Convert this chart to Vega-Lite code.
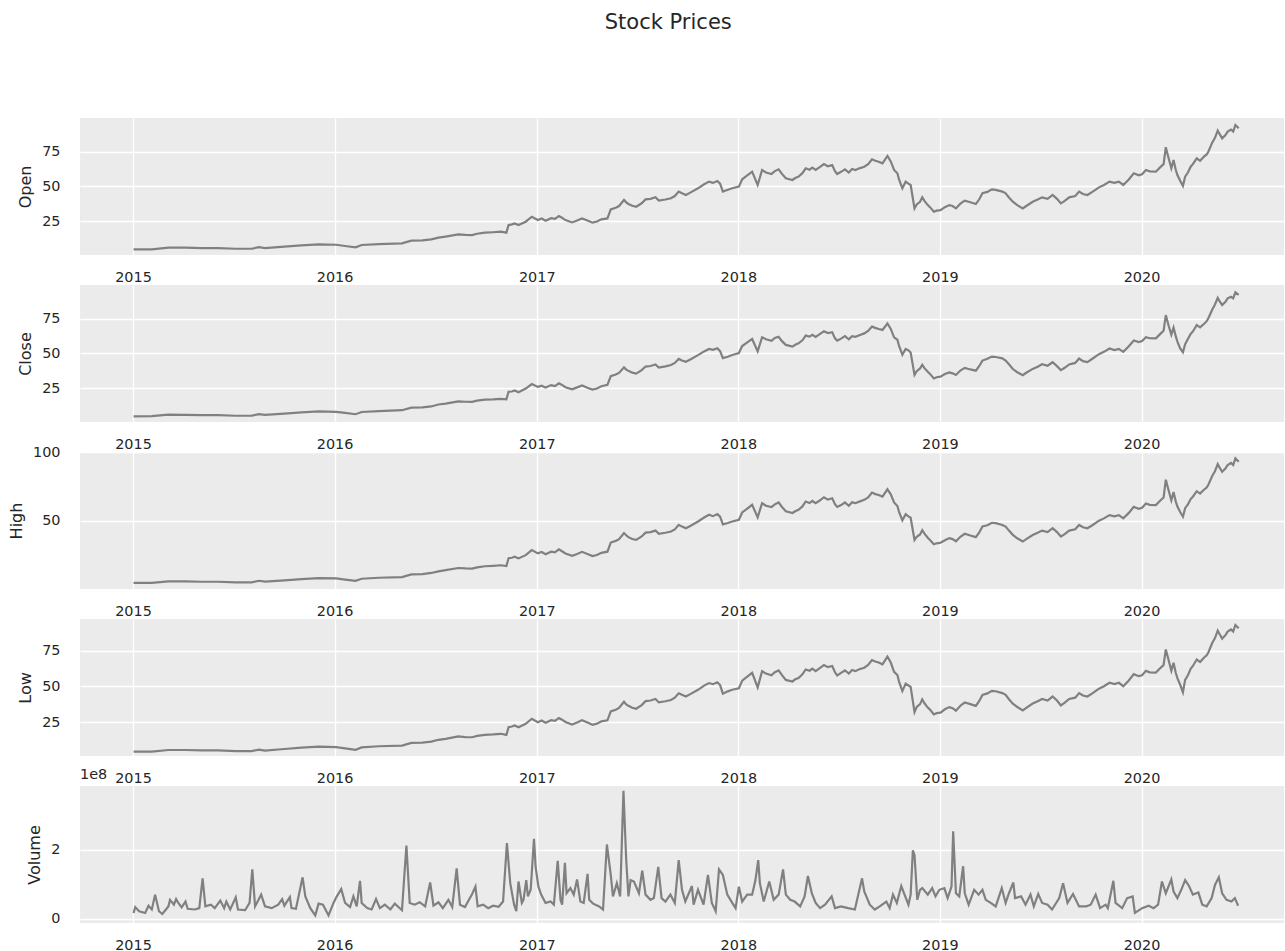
{
  "$schema": "https://vega.github.io/schema/vega-lite/v6.json",
  "background": "white",
  "padding": {"left": 8, "right": 0, "top": 12, "bottom": 0},
  "title": {"text": "Stock Prices", "fontSize": 21, "font": "DejaVu Sans", "fontWeight": "normal", "color": "#262626", "anchor": "middle", "offset": 85, "dx": 22},
  "spacing": 30,
  "bounds": "flush",
  "config": {
    "view": {"fill": "#EBEBEB", "stroke": null},
    "axis": {"domain": false, "ticks": false, "grid": true, "gridColor": "#FFFFFF", "gridWidth": 1.3, "labelFont": "DejaVu Sans", "labelFontSize": 14.4, "labelColor": "#262626", "titleFont": "DejaVu Sans", "titleFontSize": 16, "titleFontWeight": "normal", "titleColor": "#262626"},
    "axisX": {"labelPadding": 15},
    "axisY": {"labelPadding": 20, "titlePadding": 8},
    "line": {"color": "#808080", "strokeWidth": 2.2}
  },
  "datasets": {
    "prices": [
      {"Date": "2015-01-02", "Open": 4.6, "High": 4.7, "Low": 4.5, "Close": 4.6},
      {"Date": "2015-02-04", "Open": 4.6, "High": 4.7, "Low": 4.5, "Close": 4.7},
      {"Date": "2015-03-06", "Open": 5.8, "High": 5.9, "Low": 5.7, "Close": 5.8},
      {"Date": "2015-04-06", "Open": 5.8, "High": 5.9, "Low": 5.7, "Close": 5.7},
      {"Date": "2015-05-05", "Open": 5.5, "High": 5.6, "Low": 5.4, "Close": 5.5},
      {"Date": "2015-06-04", "Open": 5.5, "High": 5.6, "Low": 5.4, "Close": 5.4},
      {"Date": "2015-07-06", "Open": 5.0, "High": 5.1, "Low": 4.9, "Close": 5.0},
      {"Date": "2015-08-04", "Open": 5.0, "High": 5.1, "Low": 4.9, "Close": 5.1},
      {"Date": "2015-08-17", "Open": 6.2, "High": 6.3, "Low": 6.0, "Close": 6.1},
      {"Date": "2015-08-28", "Open": 5.5, "High": 5.7, "Low": 5.3, "Close": 5.6},
      {"Date": "2015-10-02", "Open": 6.5, "High": 6.6, "Low": 6.4, "Close": 6.5},
      {"Date": "2015-11-02", "Open": 7.4, "High": 7.5, "Low": 7.3, "Close": 7.4},
      {"Date": "2015-12-03", "Open": 8.2, "High": 8.3, "Low": 8.1, "Close": 8.1},
      {"Date": "2016-01-04", "Open": 7.9, "High": 8.0, "Low": 7.7, "Close": 7.8},
      {"Date": "2016-01-20", "Open": 7.0, "High": 7.2, "Low": 6.8, "Close": 7.1},
      {"Date": "2016-02-08", "Open": 6.0, "High": 6.2, "Low": 5.8, "Close": 6.1},
      {"Date": "2016-02-19", "Open": 7.7, "High": 7.8, "Low": 7.5, "Close": 7.7},
      {"Date": "2016-03-21", "Open": 8.4, "High": 8.5, "Low": 8.3, "Close": 8.4},
      {"Date": "2016-05-02", "Open": 8.9, "High": 9.0, "Low": 8.8, "Close": 9.0},
      {"Date": "2016-05-19", "Open": 10.8, "High": 11.0, "Low": 10.6, "Close": 10.8},
      {"Date": "2016-06-08", "Open": 11.0, "High": 11.2, "Low": 10.8, "Close": 11.1},
      {"Date": "2016-06-24", "Open": 11.8, "High": 12.0, "Low": 11.5, "Close": 11.7},
      {"Date": "2016-07-07", "Open": 13.0, "High": 13.2, "Low": 12.8, "Close": 13.1},
      {"Date": "2016-07-20", "Open": 13.8, "High": 14.0, "Low": 13.5, "Close": 13.7},
      {"Date": "2016-08-12", "Open": 15.4, "High": 15.6, "Low": 15.2, "Close": 15.3},
      {"Date": "2016-08-25", "Open": 15.0, "High": 15.3, "Low": 14.7, "Close": 15.1},
      {"Date": "2016-09-06", "Open": 14.9, "High": 15.2, "Low": 14.6, "Close": 15.0},
      {"Date": "2016-09-15", "Open": 15.8, "High": 16.1, "Low": 15.5, "Close": 15.9},
      {"Date": "2016-09-29", "Open": 16.6, "High": 16.9, "Low": 16.3, "Close": 16.6},
      {"Date": "2016-10-14", "Open": 16.9, "High": 17.2, "Low": 16.6, "Close": 16.8},
      {"Date": "2016-10-28", "Open": 17.3, "High": 17.6, "Low": 17.0, "Close": 17.2},
      {"Date": "2016-11-07", "Open": 16.6, "High": 17.0, "Low": 16.2, "Close": 16.8},
      {"Date": "2016-11-11", "Open": 22.1, "High": 22.8, "Low": 21.6, "Close": 22.3},
      {"Date": "2016-11-17", "Open": 22.6, "High": 23.1, "Low": 22.1, "Close": 22.5},
      {"Date": "2016-11-22", "Open": 23.3, "High": 23.8, "Low": 22.8, "Close": 23.2},
      {"Date": "2016-11-29", "Open": 22.1, "High": 22.6, "Low": 21.6, "Close": 22.0},
      {"Date": "2016-12-12", "Open": 24.5, "High": 25.0, "Low": 24.0, "Close": 24.6},
      {"Date": "2016-12-23", "Open": 28.1, "High": 28.7, "Low": 27.5, "Close": 27.9},
      {"Date": "2017-01-03", "Open": 25.7, "High": 26.3, "Low": 25.1, "Close": 25.8},
      {"Date": "2017-01-10", "Open": 26.8, "High": 27.3, "Low": 26.3, "Close": 26.7},
      {"Date": "2017-01-17", "Open": 25.2, "High": 25.7, "Low": 24.7, "Close": 25.3},
      {"Date": "2017-01-27", "Open": 27.0, "High": 27.5, "Low": 26.5, "Close": 27.1},
      {"Date": "2017-02-03", "Open": 26.5, "High": 27.0, "Low": 26.0, "Close": 26.4},
      {"Date": "2017-02-10", "Open": 28.6, "High": 29.2, "Low": 28.0, "Close": 28.4},
      {"Date": "2017-02-15", "Open": 27.5, "High": 28.0, "Low": 27.0, "Close": 27.4},
      {"Date": "2017-02-22", "Open": 25.7, "High": 26.2, "Low": 25.2, "Close": 25.6},
      {"Date": "2017-03-06", "Open": 24.0, "High": 24.5, "Low": 23.5, "Close": 24.1},
      {"Date": "2017-03-14", "Open": 25.2, "High": 25.7, "Low": 24.7, "Close": 25.3},
      {"Date": "2017-03-24", "Open": 26.9, "High": 27.4, "Low": 26.4, "Close": 26.8},
      {"Date": "2017-04-05", "Open": 25.0, "High": 25.5, "Low": 24.5, "Close": 24.9},
      {"Date": "2017-04-12", "Open": 23.8, "High": 24.3, "Low": 23.3, "Close": 23.9},
      {"Date": "2017-04-20", "Open": 24.6, "High": 25.1, "Low": 24.1, "Close": 24.7},
      {"Date": "2017-04-28", "Open": 26.2, "High": 26.7, "Low": 25.7, "Close": 26.3},
      {"Date": "2017-05-09", "Open": 26.9, "High": 27.5, "Low": 26.4, "Close": 27.3},
      {"Date": "2017-05-15", "Open": 33.4, "High": 34.2, "Low": 32.6, "Close": 33.6},
      {"Date": "2017-05-24", "Open": 34.6, "High": 35.4, "Low": 33.8, "Close": 34.7},
      {"Date": "2017-05-30", "Open": 35.8, "High": 36.6, "Low": 35.0, "Close": 35.9},
      {"Date": "2017-06-08", "Open": 40.2, "High": 41.1, "Low": 39.3, "Close": 39.9},
      {"Date": "2017-06-12", "Open": 38.5, "High": 39.5, "Low": 37.5, "Close": 38.3},
      {"Date": "2017-06-16", "Open": 37.3, "High": 38.1, "Low": 36.5, "Close": 37.4},
      {"Date": "2017-06-23", "Open": 36.0, "High": 36.8, "Low": 35.2, "Close": 36.1},
      {"Date": "2017-06-30", "Open": 35.3, "High": 36.1, "Low": 34.5, "Close": 35.4},
      {"Date": "2017-07-10", "Open": 37.8, "High": 38.6, "Low": 37.0, "Close": 37.9},
      {"Date": "2017-07-17", "Open": 40.6, "High": 41.4, "Low": 39.8, "Close": 40.5},
      {"Date": "2017-07-26", "Open": 41.0, "High": 41.8, "Low": 40.2, "Close": 40.9},
      {"Date": "2017-08-04", "Open": 42.1, "High": 42.9, "Low": 41.3, "Close": 42.0},
      {"Date": "2017-08-10", "Open": 39.7, "High": 40.5, "Low": 38.9, "Close": 39.8},
      {"Date": "2017-08-22", "Open": 40.5, "High": 41.3, "Low": 39.7, "Close": 40.6},
      {"Date": "2017-09-01", "Open": 41.4, "High": 42.2, "Low": 40.6, "Close": 41.6},
      {"Date": "2017-09-08", "Open": 43.0, "High": 43.8, "Low": 42.2, "Close": 43.1},
      {"Date": "2017-09-15", "Open": 46.2, "High": 47.1, "Low": 45.3, "Close": 46.0},
      {"Date": "2017-09-21", "Open": 45.0, "High": 45.8, "Low": 44.2, "Close": 44.9},
      {"Date": "2017-09-28", "Open": 43.8, "High": 44.6, "Low": 43.0, "Close": 43.9},
      {"Date": "2017-10-06", "Open": 45.5, "High": 46.3, "Low": 44.7, "Close": 45.6},
      {"Date": "2017-10-20", "Open": 48.6, "High": 49.5, "Low": 47.7, "Close": 48.7},
      {"Date": "2017-10-31", "Open": 51.5, "High": 52.4, "Low": 50.6, "Close": 51.4},
      {"Date": "2017-11-09", "Open": 53.4, "High": 54.4, "Low": 52.4, "Close": 53.2},
      {"Date": "2017-11-16", "Open": 52.5, "High": 53.4, "Low": 51.6, "Close": 52.6},
      {"Date": "2017-11-24", "Open": 53.9, "High": 54.9, "Low": 52.9, "Close": 53.7},
      {"Date": "2017-11-29", "Open": 52.0, "High": 53.0, "Low": 51.0, "Close": 51.6},
      {"Date": "2017-12-04", "Open": 46.2, "High": 47.4, "Low": 45.0, "Close": 46.6},
      {"Date": "2017-12-13", "Open": 47.5, "High": 48.4, "Low": 46.6, "Close": 47.6},
      {"Date": "2017-12-21", "Open": 48.6, "High": 49.5, "Low": 47.7, "Close": 48.8},
      {"Date": "2018-01-02", "Open": 49.8, "High": 50.8, "Low": 48.8, "Close": 50.2},
      {"Date": "2018-01-08", "Open": 55.1, "High": 56.1, "Low": 54.1, "Close": 55.3},
      {"Date": "2018-01-16", "Open": 57.5, "High": 58.5, "Low": 56.5, "Close": 57.6},
      {"Date": "2018-01-26", "Open": 60.6, "High": 61.7, "Low": 59.5, "Close": 60.4},
      {"Date": "2018-02-05", "Open": 51.0, "High": 52.6, "Low": 49.4, "Close": 51.4},
      {"Date": "2018-02-13", "Open": 61.8, "High": 62.9, "Low": 60.7, "Close": 61.6},
      {"Date": "2018-02-20", "Open": 60.0, "High": 61.0, "Low": 59.0, "Close": 60.2},
      {"Date": "2018-03-02", "Open": 58.9, "High": 60.0, "Low": 57.8, "Close": 59.1},
      {"Date": "2018-03-08", "Open": 61.0, "High": 62.0, "Low": 60.0, "Close": 61.1},
      {"Date": "2018-03-15", "Open": 62.3, "High": 63.4, "Low": 61.2, "Close": 62.0},
      {"Date": "2018-03-21", "Open": 59.0, "High": 60.1, "Low": 57.9, "Close": 58.8},
      {"Date": "2018-03-28", "Open": 55.8, "High": 57.0, "Low": 54.6, "Close": 56.1},
      {"Date": "2018-04-09", "Open": 54.6, "High": 55.7, "Low": 53.5, "Close": 54.9},
      {"Date": "2018-04-14", "Open": 56.0, "High": 57.0, "Low": 55.0, "Close": 56.2},
      {"Date": "2018-04-20", "Open": 57.0, "High": 58.1, "Low": 55.9, "Close": 57.2},
      {"Date": "2018-04-27", "Open": 59.5, "High": 60.5, "Low": 58.5, "Close": 59.4},
      {"Date": "2018-05-03", "Open": 63.0, "High": 64.1, "Low": 61.9, "Close": 62.8},
      {"Date": "2018-05-10", "Open": 62.0, "High": 63.0, "Low": 61.0, "Close": 62.1},
      {"Date": "2018-05-15", "Open": 63.5, "High": 64.5, "Low": 62.5, "Close": 63.4},
      {"Date": "2018-05-21", "Open": 61.8, "High": 62.9, "Low": 60.7, "Close": 61.9},
      {"Date": "2018-05-29", "Open": 64.0, "High": 65.0, "Low": 63.0, "Close": 64.1},
      {"Date": "2018-06-05", "Open": 66.1, "High": 67.2, "Low": 65.0, "Close": 65.9},
      {"Date": "2018-06-12", "Open": 64.5, "High": 65.5, "Low": 63.5, "Close": 64.6},
      {"Date": "2018-06-20", "Open": 65.4, "High": 66.5, "Low": 64.3, "Close": 65.2},
      {"Date": "2018-06-25", "Open": 61.0, "High": 62.1, "Low": 59.9, "Close": 60.8},
      {"Date": "2018-06-29", "Open": 58.9, "High": 60.1, "Low": 57.7, "Close": 59.2},
      {"Date": "2018-07-06", "Open": 60.5, "High": 61.5, "Low": 59.5, "Close": 60.6},
      {"Date": "2018-07-13", "Open": 62.3, "High": 63.4, "Low": 61.2, "Close": 62.4},
      {"Date": "2018-07-20", "Open": 60.0, "High": 61.0, "Low": 59.0, "Close": 60.1},
      {"Date": "2018-07-26", "Open": 62.5, "High": 63.5, "Low": 61.5, "Close": 62.4},
      {"Date": "2018-08-01", "Open": 61.8, "High": 62.9, "Low": 60.7, "Close": 61.9},
      {"Date": "2018-08-08", "Open": 63.0, "High": 64.0, "Low": 62.0, "Close": 63.1},
      {"Date": "2018-08-17", "Open": 64.2, "High": 65.3, "Low": 63.1, "Close": 64.4},
      {"Date": "2018-08-24", "Open": 66.0, "High": 67.0, "Low": 65.0, "Close": 66.2},
      {"Date": "2018-08-31", "Open": 69.5, "High": 70.6, "Low": 68.4, "Close": 69.3},
      {"Date": "2018-09-06", "Open": 68.5, "High": 69.5, "Low": 67.5, "Close": 68.4},
      {"Date": "2018-09-12", "Open": 67.8, "High": 68.9, "Low": 66.7, "Close": 67.6},
      {"Date": "2018-09-19", "Open": 66.6, "High": 67.7, "Low": 65.5, "Close": 66.9},
      {"Date": "2018-09-28", "Open": 71.9, "High": 73.0, "Low": 70.8, "Close": 71.5},
      {"Date": "2018-10-04", "Open": 68.0, "High": 69.3, "Low": 66.7, "Close": 67.6},
      {"Date": "2018-10-10", "Open": 61.8, "High": 63.4, "Low": 60.2, "Close": 61.5},
      {"Date": "2018-10-16", "Open": 59.4, "High": 60.8, "Low": 58.0, "Close": 59.8},
      {"Date": "2018-10-19", "Open": 55.0, "High": 56.6, "Low": 53.4, "Close": 55.3},
      {"Date": "2018-10-25", "Open": 48.6, "High": 50.4, "Low": 46.8, "Close": 49.0},
      {"Date": "2018-10-31", "Open": 53.4, "High": 54.8, "Low": 52.0, "Close": 53.2},
      {"Date": "2018-11-05", "Open": 52.0, "High": 53.3, "Low": 50.7, "Close": 52.2},
      {"Date": "2018-11-09", "Open": 51.0, "High": 52.3, "Low": 49.7, "Close": 50.6},
      {"Date": "2018-11-16", "Open": 34.1, "High": 36.0, "Low": 32.2, "Close": 34.5},
      {"Date": "2018-11-20", "Open": 37.0, "High": 38.3, "Low": 35.7, "Close": 37.2},
      {"Date": "2018-11-26", "Open": 38.9, "High": 40.1, "Low": 37.7, "Close": 39.1},
      {"Date": "2018-11-30", "Open": 42.1, "High": 43.2, "Low": 41.0, "Close": 41.8},
      {"Date": "2018-12-04", "Open": 39.5, "High": 40.7, "Low": 38.3, "Close": 39.3},
      {"Date": "2018-12-10", "Open": 36.5, "High": 37.7, "Low": 35.3, "Close": 36.7},
      {"Date": "2018-12-14", "Open": 35.0, "High": 36.1, "Low": 33.9, "Close": 35.2},
      {"Date": "2018-12-21", "Open": 31.7, "High": 32.9, "Low": 30.5, "Close": 31.9},
      {"Date": "2018-12-26", "Open": 32.5, "High": 33.6, "Low": 31.4, "Close": 32.8},
      {"Date": "2019-01-02", "Open": 32.9, "High": 34.0, "Low": 31.8, "Close": 33.2},
      {"Date": "2019-01-10", "Open": 35.0, "High": 35.9, "Low": 34.1, "Close": 35.1},
      {"Date": "2019-01-18", "Open": 36.5, "High": 37.4, "Low": 35.6, "Close": 36.3},
      {"Date": "2019-01-24", "Open": 35.8, "High": 36.7, "Low": 34.9, "Close": 35.6},
      {"Date": "2019-01-30", "Open": 34.1, "High": 35.1, "Low": 33.1, "Close": 34.4},
      {"Date": "2019-02-07", "Open": 37.5, "High": 38.4, "Low": 36.6, "Close": 37.6},
      {"Date": "2019-02-15", "Open": 39.7, "High": 40.6, "Low": 38.8, "Close": 39.5},
      {"Date": "2019-02-25", "Open": 38.5, "High": 39.3, "Low": 37.7, "Close": 38.4},
      {"Date": "2019-03-07", "Open": 37.3, "High": 38.1, "Low": 36.5, "Close": 37.5},
      {"Date": "2019-03-13", "Open": 40.5, "High": 41.3, "Low": 39.7, "Close": 40.7},
      {"Date": "2019-03-19", "Open": 45.0, "High": 45.9, "Low": 44.1, "Close": 44.8},
      {"Date": "2019-03-28", "Open": 46.0, "High": 46.8, "Low": 45.2, "Close": 46.1},
      {"Date": "2019-04-05", "Open": 47.8, "High": 48.6, "Low": 47.0, "Close": 47.7},
      {"Date": "2019-04-12", "Open": 47.5, "High": 48.3, "Low": 46.7, "Close": 47.4},
      {"Date": "2019-04-24", "Open": 46.2, "High": 47.0, "Low": 45.4, "Close": 46.4},
      {"Date": "2019-04-30", "Open": 45.0, "High": 45.8, "Low": 44.2, "Close": 44.8},
      {"Date": "2019-05-06", "Open": 42.0, "High": 42.9, "Low": 41.1, "Close": 42.1},
      {"Date": "2019-05-13", "Open": 38.9, "High": 39.8, "Low": 38.0, "Close": 38.7},
      {"Date": "2019-05-21", "Open": 36.5, "High": 37.3, "Low": 35.7, "Close": 36.4},
      {"Date": "2019-05-31", "Open": 34.1, "High": 34.9, "Low": 33.3, "Close": 34.3},
      {"Date": "2019-06-07", "Open": 36.0, "High": 36.8, "Low": 35.2, "Close": 36.2},
      {"Date": "2019-06-18", "Open": 38.9, "High": 39.7, "Low": 38.1, "Close": 38.8},
      {"Date": "2019-06-27", "Open": 40.5, "High": 41.3, "Low": 39.7, "Close": 40.4},
      {"Date": "2019-07-05", "Open": 42.1, "High": 42.9, "Low": 41.3, "Close": 42.2},
      {"Date": "2019-07-15", "Open": 41.0, "High": 41.8, "Low": 40.2, "Close": 41.1},
      {"Date": "2019-07-24", "Open": 43.8, "High": 44.6, "Low": 43.0, "Close": 43.6},
      {"Date": "2019-08-01", "Open": 41.0, "High": 41.8, "Low": 40.2, "Close": 40.8},
      {"Date": "2019-08-08", "Open": 37.7, "High": 38.6, "Low": 36.8, "Close": 37.9},
      {"Date": "2019-08-15", "Open": 39.5, "High": 40.3, "Low": 38.7, "Close": 39.6},
      {"Date": "2019-08-23", "Open": 42.1, "High": 42.9, "Low": 41.3, "Close": 42.0},
      {"Date": "2019-09-03", "Open": 43.0, "High": 43.8, "Low": 42.2, "Close": 43.1},
      {"Date": "2019-09-10", "Open": 46.2, "High": 47.0, "Low": 45.4, "Close": 46.3},
      {"Date": "2019-09-17", "Open": 44.5, "High": 45.3, "Low": 43.7, "Close": 44.4},
      {"Date": "2019-09-25", "Open": 43.8, "High": 44.6, "Low": 43.0, "Close": 43.7},
      {"Date": "2019-10-04", "Open": 46.0, "High": 46.8, "Low": 45.2, "Close": 46.1},
      {"Date": "2019-10-16", "Open": 49.3, "High": 50.1, "Low": 48.5, "Close": 49.4},
      {"Date": "2019-10-25", "Open": 51.0, "High": 51.8, "Low": 50.2, "Close": 51.1},
      {"Date": "2019-11-04", "Open": 53.4, "High": 54.2, "Low": 52.6, "Close": 53.5},
      {"Date": "2019-11-13", "Open": 52.5, "High": 53.3, "Low": 51.7, "Close": 52.4},
      {"Date": "2019-11-21", "Open": 53.4, "High": 54.2, "Low": 52.6, "Close": 53.2},
      {"Date": "2019-11-29", "Open": 51.0, "High": 51.8, "Low": 50.2, "Close": 51.1},
      {"Date": "2019-12-09", "Open": 55.0, "High": 55.8, "Low": 54.2, "Close": 55.1},
      {"Date": "2019-12-18", "Open": 59.4, "High": 60.2, "Low": 58.6, "Close": 59.3},
      {"Date": "2019-12-27", "Open": 58.0, "High": 58.8, "Low": 57.2, "Close": 58.2},
      {"Date": "2020-01-02", "Open": 58.7, "High": 59.6, "Low": 57.8, "Close": 58.9},
      {"Date": "2020-01-09", "Open": 61.8, "High": 62.7, "Low": 60.9, "Close": 61.7},
      {"Date": "2020-01-16", "Open": 60.8, "High": 61.7, "Low": 59.9, "Close": 60.9},
      {"Date": "2020-01-27", "Open": 60.6, "High": 61.5, "Low": 59.7, "Close": 60.8},
      {"Date": "2020-02-05", "Open": 64.2, "High": 65.2, "Low": 63.2, "Close": 64.4},
      {"Date": "2020-02-10", "Open": 66.0, "High": 67.0, "Low": 65.0, "Close": 66.3},
      {"Date": "2020-02-14", "Open": 78.2, "High": 80.0, "Low": 75.8, "Close": 77.6},
      {"Date": "2020-02-19", "Open": 70.5, "High": 72.3, "Low": 68.5, "Close": 70.1},
      {"Date": "2020-02-24", "Open": 63.0, "High": 65.0, "Low": 61.0, "Close": 63.4},
      {"Date": "2020-02-28", "Open": 69.0, "High": 71.0, "Low": 66.5, "Close": 68.6},
      {"Date": "2020-03-03", "Open": 62.0, "High": 64.2, "Low": 59.6, "Close": 62.4},
      {"Date": "2020-03-06", "Open": 58.2, "High": 60.4, "Low": 55.8, "Close": 58.5},
      {"Date": "2020-03-11", "Open": 54.0, "High": 56.5, "Low": 51.2, "Close": 53.6},
      {"Date": "2020-03-16", "Open": 50.3, "High": 53.0, "Low": 46.0, "Close": 50.8},
      {"Date": "2020-03-20", "Open": 57.0, "High": 59.2, "Low": 54.6, "Close": 56.6},
      {"Date": "2020-03-25", "Open": 60.0, "High": 62.0, "Low": 57.8, "Close": 60.3},
      {"Date": "2020-03-30", "Open": 64.2, "High": 65.9, "Low": 62.3, "Close": 64.0},
      {"Date": "2020-04-03", "Open": 66.0, "High": 67.6, "Low": 64.3, "Close": 65.8},
      {"Date": "2020-04-10", "Open": 70.2, "High": 71.6, "Low": 68.8, "Close": 70.4},
      {"Date": "2020-04-16", "Open": 68.5, "High": 69.9, "Low": 67.1, "Close": 68.7},
      {"Date": "2020-04-23", "Open": 71.4, "High": 72.7, "Low": 70.1, "Close": 71.2},
      {"Date": "2020-04-28", "Open": 73.0, "High": 74.3, "Low": 71.7, "Close": 73.2},
      {"Date": "2020-05-01", "Open": 75.0, "High": 76.3, "Low": 73.7, "Close": 75.3},
      {"Date": "2020-05-08", "Open": 81.5, "High": 82.7, "Low": 80.3, "Close": 81.4},
      {"Date": "2020-05-13", "Open": 85.0, "High": 86.2, "Low": 83.8, "Close": 85.3},
      {"Date": "2020-05-18", "Open": 90.2, "High": 91.4, "Low": 89.0, "Close": 90.0},
      {"Date": "2020-05-21", "Open": 88.0, "High": 89.2, "Low": 86.8, "Close": 87.8},
      {"Date": "2020-05-26", "Open": 84.6, "High": 85.8, "Low": 83.4, "Close": 84.9},
      {"Date": "2020-06-01", "Open": 87.0, "High": 88.2, "Low": 85.8, "Close": 87.2},
      {"Date": "2020-06-05", "Open": 89.5, "High": 90.7, "Low": 88.3, "Close": 89.7},
      {"Date": "2020-06-11", "Open": 91.0, "High": 92.2, "Low": 89.8, "Close": 90.8},
      {"Date": "2020-06-15", "Open": 89.5, "High": 90.7, "Low": 88.3, "Close": 89.7},
      {"Date": "2020-06-19", "Open": 94.3, "High": 95.6, "Low": 92.9, "Close": 94.0},
      {"Date": "2020-06-25", "Open": 91.9, "High": 93.1, "Low": 90.6, "Close": 92.2}
    ],
    "volume": [
      {"Date": "2015-01-02", "Volume": 17000000}, {"Date": "2015-01-05", "Volume": 34000000}, {"Date": "2015-01-12", "Volume": 22000000},
      {"Date": "2015-01-23", "Volume": 17000000}, {"Date": "2015-01-29", "Volume": 38000000}, {"Date": "2015-02-04", "Volume": 27000000},
      {"Date": "2015-02-10", "Volume": 70000000}, {"Date": "2015-02-17", "Volume": 22000000}, {"Date": "2015-02-23", "Volume": 14000000},
      {"Date": "2015-02-27", "Volume": 22000000}, {"Date": "2015-03-06", "Volume": 36000000}, {"Date": "2015-03-09", "Volume": 55000000},
      {"Date": "2015-03-16", "Volume": 41000000}, {"Date": "2015-03-20", "Volume": 57000000}, {"Date": "2015-03-24", "Volume": 46000000},
      {"Date": "2015-03-30", "Volume": 33000000}, {"Date": "2015-04-06", "Volume": 50000000}, {"Date": "2015-04-10", "Volume": 29000000},
      {"Date": "2015-04-23", "Volume": 27000000}, {"Date": "2015-05-01", "Volume": 31000000}, {"Date": "2015-05-07", "Volume": 117000000},
      {"Date": "2015-05-12", "Volume": 36000000}, {"Date": "2015-05-22", "Volume": 41000000}, {"Date": "2015-05-29", "Volume": 31000000},
      {"Date": "2015-06-08", "Volume": 53000000}, {"Date": "2015-06-15", "Volume": 31000000}, {"Date": "2015-06-19", "Volume": 50000000},
      {"Date": "2015-06-26", "Volume": 27000000}, {"Date": "2015-07-06", "Volume": 62000000}, {"Date": "2015-07-10", "Volume": 27000000},
      {"Date": "2015-07-23", "Volume": 25000000}, {"Date": "2015-07-31", "Volume": 46000000}, {"Date": "2015-08-05", "Volume": 143000000},
      {"Date": "2015-08-10", "Volume": 36000000}, {"Date": "2015-08-21", "Volume": 70000000}, {"Date": "2015-08-28", "Volume": 36000000},
      {"Date": "2015-09-09", "Volume": 31000000}, {"Date": "2015-09-21", "Volume": 41000000}, {"Date": "2015-09-28", "Volume": 57000000},
      {"Date": "2015-10-02", "Volume": 38000000}, {"Date": "2015-10-12", "Volume": 63000000}, {"Date": "2015-10-15", "Volume": 31000000},
      {"Date": "2015-10-23", "Volume": 29000000}, {"Date": "2015-11-04", "Volume": 120000000}, {"Date": "2015-11-09", "Volume": 65000000},
      {"Date": "2015-11-18", "Volume": 31000000}, {"Date": "2015-11-27", "Volume": 10000000}, {"Date": "2015-12-03", "Volume": 44000000},
      {"Date": "2015-12-11", "Volume": 41000000}, {"Date": "2015-12-21", "Volume": 10000000}, {"Date": "2015-12-30", "Volume": 46000000},
      {"Date": "2016-01-05", "Volume": 65000000}, {"Date": "2016-01-13", "Volume": 86000000}, {"Date": "2016-01-20", "Volume": 46000000},
      {"Date": "2016-01-29", "Volume": 34000000}, {"Date": "2016-02-04", "Volume": 65000000}, {"Date": "2016-02-10", "Volume": 36000000},
      {"Date": "2016-02-16", "Volume": 110000000}, {"Date": "2016-02-19", "Volume": 46000000}, {"Date": "2016-02-29", "Volume": 31000000},
      {"Date": "2016-03-08", "Volume": 27000000}, {"Date": "2016-03-16", "Volume": 57000000}, {"Date": "2016-03-23", "Volume": 31000000},
      {"Date": "2016-04-01", "Volume": 41000000}, {"Date": "2016-04-11", "Volume": 27000000}, {"Date": "2016-04-19", "Volume": 44000000},
      {"Date": "2016-05-02", "Volume": 25000000}, {"Date": "2016-05-10", "Volume": 212000000}, {"Date": "2016-05-16", "Volume": 46000000},
      {"Date": "2016-05-25", "Volume": 41000000}, {"Date": "2016-06-03", "Volume": 48000000}, {"Date": "2016-06-13", "Volume": 36000000},
      {"Date": "2016-06-22", "Volume": 105000000}, {"Date": "2016-06-28", "Volume": 38000000}, {"Date": "2016-07-07", "Volume": 48000000},
      {"Date": "2016-07-15", "Volume": 31000000}, {"Date": "2016-07-25", "Volume": 55000000}, {"Date": "2016-08-01", "Volume": 34000000},
      {"Date": "2016-08-09", "Volume": 146000000}, {"Date": "2016-08-15", "Volume": 41000000}, {"Date": "2016-08-24", "Volume": 34000000},
      {"Date": "2016-09-06", "Volume": 72000000}, {"Date": "2016-09-12", "Volume": 93000000}, {"Date": "2016-09-16", "Volume": 36000000},
      {"Date": "2016-09-26", "Volume": 41000000}, {"Date": "2016-10-05", "Volume": 31000000}, {"Date": "2016-10-14", "Volume": 38000000},
      {"Date": "2016-10-24", "Volume": 35000000}, {"Date": "2016-11-01", "Volume": 50000000}, {"Date": "2016-11-08", "Volume": 219000000},
      {"Date": "2016-11-14", "Volume": 103000000}, {"Date": "2016-11-21", "Volume": 41000000}, {"Date": "2016-11-25", "Volume": 22000000},
      {"Date": "2016-11-29", "Volume": 108000000}, {"Date": "2016-12-05", "Volume": 46000000}, {"Date": "2016-12-08", "Volume": 55000000},
      {"Date": "2016-12-13", "Volume": 112000000}, {"Date": "2016-12-16", "Volume": 65000000}, {"Date": "2016-12-21", "Volume": 84000000},
      {"Date": "2016-12-27", "Volume": 231000000}, {"Date": "2016-12-30", "Volume": 150000000}, {"Date": "2017-01-04", "Volume": 93000000},
      {"Date": "2017-01-09", "Volume": 70000000}, {"Date": "2017-01-17", "Volume": 46000000}, {"Date": "2017-01-26", "Volume": 50000000},
      {"Date": "2017-02-01", "Volume": 41000000}, {"Date": "2017-02-08", "Volume": 168000000}, {"Date": "2017-02-13", "Volume": 55000000},
      {"Date": "2017-02-16", "Volume": 41000000}, {"Date": "2017-02-21", "Volume": 162000000}, {"Date": "2017-02-24", "Volume": 74000000},
      {"Date": "2017-03-03", "Volume": 89000000}, {"Date": "2017-03-09", "Volume": 70000000}, {"Date": "2017-03-15", "Volume": 114000000},
      {"Date": "2017-03-21", "Volume": 50000000}, {"Date": "2017-03-27", "Volume": 46000000}, {"Date": "2017-04-03", "Volume": 130000000},
      {"Date": "2017-04-06", "Volume": 55000000}, {"Date": "2017-04-13", "Volume": 44000000}, {"Date": "2017-04-24", "Volume": 36000000},
      {"Date": "2017-05-01", "Volume": 27000000}, {"Date": "2017-05-08", "Volume": 215000000}, {"Date": "2017-05-15", "Volume": 127000000},
      {"Date": "2017-05-19", "Volume": 65000000}, {"Date": "2017-05-26", "Volume": 103000000}, {"Date": "2017-06-01", "Volume": 65000000},
      {"Date": "2017-06-07", "Volume": 370000000}, {"Date": "2017-06-12", "Volume": 170000000}, {"Date": "2017-06-16", "Volume": 65000000},
      {"Date": "2017-06-20", "Volume": 112000000}, {"Date": "2017-06-26", "Volume": 108000000}, {"Date": "2017-07-05", "Volume": 74000000},
      {"Date": "2017-07-11", "Volume": 139000000}, {"Date": "2017-07-17", "Volume": 70000000}, {"Date": "2017-07-26", "Volume": 55000000},
      {"Date": "2017-08-01", "Volume": 60000000}, {"Date": "2017-08-09", "Volume": 150000000}, {"Date": "2017-08-15", "Volume": 60000000},
      {"Date": "2017-08-22", "Volume": 50000000}, {"Date": "2017-08-31", "Volume": 70000000}, {"Date": "2017-09-08", "Volume": 46000000},
      {"Date": "2017-09-15", "Volume": 170000000}, {"Date": "2017-09-21", "Volume": 84000000}, {"Date": "2017-09-27", "Volume": 50000000},
      {"Date": "2017-10-09", "Volume": 95000000}, {"Date": "2017-10-12", "Volume": 41000000}, {"Date": "2017-10-20", "Volume": 84000000},
      {"Date": "2017-10-30", "Volume": 41000000}, {"Date": "2017-11-07", "Volume": 127000000}, {"Date": "2017-11-14", "Volume": 46000000},
      {"Date": "2017-11-21", "Volume": 22000000}, {"Date": "2017-11-27", "Volume": 143000000}, {"Date": "2017-12-04", "Volume": 127000000},
      {"Date": "2017-12-12", "Volume": 70000000}, {"Date": "2017-12-21", "Volume": 46000000}, {"Date": "2017-12-27", "Volume": 31000000},
      {"Date": "2018-01-02", "Volume": 93000000}, {"Date": "2018-01-08", "Volume": 50000000}, {"Date": "2018-01-17", "Volume": 70000000},
      {"Date": "2018-01-26", "Volume": 70000000}, {"Date": "2018-02-01", "Volume": 112000000}, {"Date": "2018-02-06", "Volume": 170000000},
      {"Date": "2018-02-09", "Volume": 103000000}, {"Date": "2018-02-16", "Volume": 50000000}, {"Date": "2018-02-26", "Volume": 108000000},
      {"Date": "2018-03-06", "Volume": 55000000}, {"Date": "2018-03-15", "Volume": 70000000}, {"Date": "2018-03-23", "Volume": 143000000},
      {"Date": "2018-03-28", "Volume": 70000000}, {"Date": "2018-04-05", "Volume": 55000000}, {"Date": "2018-04-13", "Volume": 50000000},
      {"Date": "2018-04-23", "Volume": 36000000}, {"Date": "2018-05-01", "Volume": 65000000}, {"Date": "2018-05-07", "Volume": 124000000},
      {"Date": "2018-05-14", "Volume": 74000000}, {"Date": "2018-05-21", "Volume": 46000000}, {"Date": "2018-05-29", "Volume": 31000000},
      {"Date": "2018-06-07", "Volume": 41000000}, {"Date": "2018-06-19", "Volume": 65000000}, {"Date": "2018-06-25", "Volume": 31000000},
      {"Date": "2018-07-06", "Volume": 36000000}, {"Date": "2018-07-19", "Volume": 31000000}, {"Date": "2018-07-31", "Volume": 27000000},
      {"Date": "2018-08-13", "Volume": 117000000}, {"Date": "2018-08-17", "Volume": 79000000}, {"Date": "2018-08-27", "Volume": 41000000},
      {"Date": "2018-09-05", "Volume": 27000000}, {"Date": "2018-09-14", "Volume": 36000000}, {"Date": "2018-09-26", "Volume": 50000000},
      {"Date": "2018-10-02", "Volume": 31000000}, {"Date": "2018-10-08", "Volume": 70000000}, {"Date": "2018-10-15", "Volume": 46000000},
      {"Date": "2018-10-23", "Volume": 95000000}, {"Date": "2018-10-29", "Volume": 70000000}, {"Date": "2018-11-05", "Volume": 41000000},
      {"Date": "2018-11-09", "Volume": 70000000}, {"Date": "2018-11-13", "Volume": 198000000}, {"Date": "2018-11-16", "Volume": 184000000},
      {"Date": "2018-11-21", "Volume": 55000000}, {"Date": "2018-11-26", "Volume": 84000000}, {"Date": "2018-11-30", "Volume": 89000000},
      {"Date": "2018-12-10", "Volume": 70000000}, {"Date": "2018-12-18", "Volume": 89000000}, {"Date": "2018-12-24", "Volume": 65000000},
      {"Date": "2018-12-31", "Volume": 84000000}, {"Date": "2019-01-09", "Volume": 89000000}, {"Date": "2019-01-15", "Volume": 60000000},
      {"Date": "2019-01-22", "Volume": 93000000}, {"Date": "2019-01-25", "Volume": 253000000}, {"Date": "2019-01-30", "Volume": 74000000},
      {"Date": "2019-02-05", "Volume": 65000000}, {"Date": "2019-02-12", "Volume": 152000000}, {"Date": "2019-02-15", "Volume": 74000000},
      {"Date": "2019-02-22", "Volume": 41000000}, {"Date": "2019-03-04", "Volume": 84000000}, {"Date": "2019-03-12", "Volume": 70000000},
      {"Date": "2019-03-19", "Volume": 84000000}, {"Date": "2019-03-25", "Volume": 55000000}, {"Date": "2019-04-03", "Volume": 46000000},
      {"Date": "2019-04-12", "Volume": 36000000}, {"Date": "2019-04-23", "Volume": 89000000}, {"Date": "2019-04-30", "Volume": 46000000},
      {"Date": "2019-05-06", "Volume": 74000000}, {"Date": "2019-05-14", "Volume": 105000000}, {"Date": "2019-05-17", "Volume": 60000000},
      {"Date": "2019-05-28", "Volume": 65000000}, {"Date": "2019-06-05", "Volume": 41000000}, {"Date": "2019-06-14", "Volume": 70000000},
      {"Date": "2019-06-20", "Volume": 36000000}, {"Date": "2019-06-28", "Volume": 72000000}, {"Date": "2019-07-05", "Volume": 46000000},
      {"Date": "2019-07-15", "Volume": 41000000}, {"Date": "2019-07-23", "Volume": 27000000}, {"Date": "2019-08-05", "Volume": 60000000},
      {"Date": "2019-08-12", "Volume": 103000000}, {"Date": "2019-08-20", "Volume": 46000000}, {"Date": "2019-08-30", "Volume": 72000000},
      {"Date": "2019-09-10", "Volume": 36000000}, {"Date": "2019-09-23", "Volume": 36000000}, {"Date": "2019-10-01", "Volume": 41000000},
      {"Date": "2019-10-10", "Volume": 70000000}, {"Date": "2019-10-18", "Volume": 31000000}, {"Date": "2019-10-28", "Volume": 41000000},
      {"Date": "2019-11-01", "Volume": 31000000}, {"Date": "2019-11-11", "Volume": 110000000}, {"Date": "2019-11-15", "Volume": 46000000},
      {"Date": "2019-11-27", "Volume": 31000000}, {"Date": "2019-12-06", "Volume": 60000000}, {"Date": "2019-12-16", "Volume": 65000000},
      {"Date": "2019-12-20", "Volume": 17000000}, {"Date": "2020-01-02", "Volume": 31000000}, {"Date": "2020-01-14", "Volume": 38000000},
      {"Date": "2020-01-23", "Volume": 31000000}, {"Date": "2020-01-31", "Volume": 41000000}, {"Date": "2020-02-07", "Volume": 108000000},
      {"Date": "2020-02-14", "Volume": 74000000}, {"Date": "2020-02-24", "Volume": 114000000}, {"Date": "2020-02-28", "Volume": 79000000},
      {"Date": "2020-03-06", "Volume": 60000000}, {"Date": "2020-03-13", "Volume": 84000000}, {"Date": "2020-03-20", "Volume": 112000000},
      {"Date": "2020-03-27", "Volume": 95000000}, {"Date": "2020-04-03", "Volume": 70000000}, {"Date": "2020-04-13", "Volume": 76000000},
      {"Date": "2020-04-20", "Volume": 41000000}, {"Date": "2020-04-28", "Volume": 36000000}, {"Date": "2020-05-07", "Volume": 60000000},
      {"Date": "2020-05-13", "Volume": 98000000}, {"Date": "2020-05-20", "Volume": 120000000}, {"Date": "2020-05-26", "Volume": 74000000},
      {"Date": "2020-06-03", "Volume": 55000000}, {"Date": "2020-06-12", "Volume": 50000000}, {"Date": "2020-06-18", "Volume": 60000000},
      {"Date": "2020-06-24", "Volume": 38000000}
    ]
  },
  "vconcat": [
    {
      "width": 1204, "height": 137,
      "data": {"name": "prices"},
      "mark": {"type": "line"},
      "encoding": {
        "x": {"field": "Date", "type": "temporal", "title": null,
              "scale": {"type": "utc", "domain": [{"year": 2014, "month": 9, "date": 27, "utc": true}, {"year": 2020, "month": 9, "date": 15, "utc": true}], "nice": false},
              "axis": {"values": [{"year": 2015, "utc": true}, {"year": 2016, "utc": true}, {"year": 2017, "utc": true}, {"year": 2018, "utc": true}, {"year": 2019, "utc": true}, {"year": 2020, "utc": true}], "format": "%Y"}},
        "y": {"field": "Open", "type": "quantitative", "title": "Open",
              "scale": {"domain": [0.5, 99.3], "nice": false, "zero": false},
              "axis": {"values": [25, 50, 75]}}
      }
    },
    {
      "width": 1204, "height": 137,
      "data": {"name": "prices"},
      "mark": {"type": "line"},
      "encoding": {
        "x": {"field": "Date", "type": "temporal", "title": null,
              "scale": {"type": "utc", "domain": [{"year": 2014, "month": 9, "date": 27, "utc": true}, {"year": 2020, "month": 9, "date": 15, "utc": true}], "nice": false},
              "axis": {"values": [{"year": 2015, "utc": true}, {"year": 2016, "utc": true}, {"year": 2017, "utc": true}, {"year": 2018, "utc": true}, {"year": 2019, "utc": true}, {"year": 2020, "utc": true}], "format": "%Y"}},
        "y": {"field": "Close", "type": "quantitative", "title": "Close",
              "scale": {"domain": [0.5, 99.3], "nice": false, "zero": false},
              "axis": {"values": [25, 50, 75]}}
      }
    },
    {
      "width": 1204, "height": 137,
      "data": {"name": "prices"},
      "mark": {"type": "line"},
      "encoding": {
        "x": {"field": "Date", "type": "temporal", "title": null,
              "scale": {"type": "utc", "domain": [{"year": 2014, "month": 9, "date": 27, "utc": true}, {"year": 2020, "month": 9, "date": 15, "utc": true}], "nice": false},
              "axis": {"values": [{"year": 2015, "utc": true}, {"year": 2016, "utc": true}, {"year": 2017, "utc": true}, {"year": 2018, "utc": true}, {"year": 2019, "utc": true}, {"year": 2020, "utc": true}], "format": "%Y"}},
        "y": {"field": "High", "type": "quantitative", "title": "High",
              "scale": {"domain": [0.3, 100.2], "nice": false, "zero": false},
              "axis": {"values": [50, 100]}}
      }
    },
    {
      "width": 1204, "height": 137,
      "data": {"name": "prices"},
      "mark": {"type": "line"},
      "encoding": {
        "x": {"field": "Date", "type": "temporal", "title": null,
              "scale": {"type": "utc", "domain": [{"year": 2014, "month": 9, "date": 27, "utc": true}, {"year": 2020, "month": 9, "date": 15, "utc": true}], "nice": false},
              "axis": {"values": [{"year": 2015, "utc": true}, {"year": 2016, "utc": true}, {"year": 2017, "utc": true}, {"year": 2018, "utc": true}, {"year": 2019, "utc": true}, {"year": 2020, "utc": true}], "format": "%Y"}},
        "y": {"field": "Low", "type": "quantitative", "title": "Low",
              "scale": {"domain": [1.5, 97.1], "nice": false, "zero": false},
              "axis": {"values": [25, 50, 75]}}
      }
    },
    {
      "width": 1204, "height": 137,
      "title": {"text": "1e8", "anchor": "start", "frame": "group", "font": "DejaVu Sans", "fontSize": 14.4, "fontWeight": "normal", "color": "#262626", "offset": 4},
      "data": {"name": "volume"},
      "mark": {"type": "line"},
      "encoding": {
        "x": {"field": "Date", "type": "temporal", "title": null,
              "scale": {"type": "utc", "domain": [{"year": 2014, "month": 9, "date": 27, "utc": true}, {"year": 2020, "month": 9, "date": 15, "utc": true}], "nice": false},
              "axis": {"values": [{"year": 2015, "utc": true}, {"year": 2016, "utc": true}, {"year": 2017, "utc": true}, {"year": 2018, "utc": true}, {"year": 2019, "utc": true}, {"year": 2020, "utc": true}], "format": "%Y"}},
        "y": {"field": "Volume", "type": "quantitative", "title": "Volume",
              "scale": {"domain": [-12000000, 384000000], "nice": false, "zero": false},
              "axis": {"values": [0, 200000000], "labelExpr": "format(datum.value / 1e8, 'd')"}}
      }
    }
  ]
}
